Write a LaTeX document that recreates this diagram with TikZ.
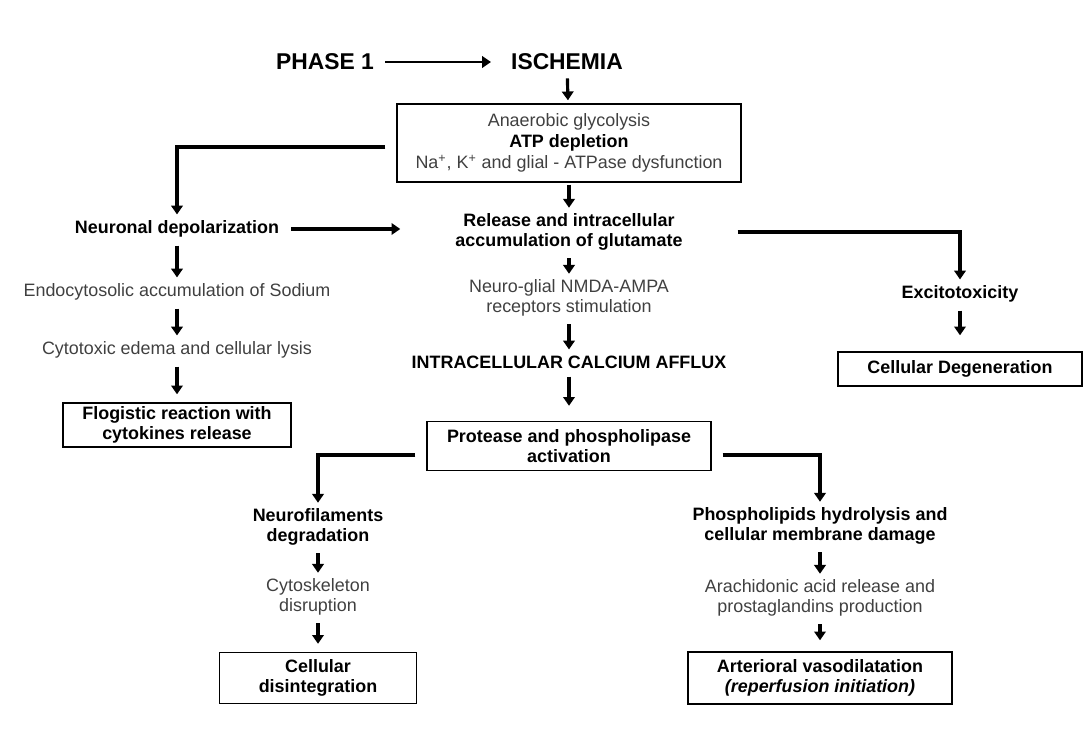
\documentclass[tikz,border=0pt]{standalone}
\usepackage{fontspec}
\setmainfont{Liberation Sans}
\usetikzlibrary{arrows.meta}

\begin{document}
\begin{tikzpicture}[x=0.02cm, y=-0.02cm,
  font=\fontsize{10.2}{11}\selectfont,
  txt/.style={text=black!75, align=center},
  hd/.style={font=\fontsize{10.2}{11}\selectfont\bfseries, align=center},
  box/.style={draw, line width=0.8pt, align=center, inner sep=2pt},
  arr/.style={line width=1.8pt, shorten <=0.04cm, -{Triangle[width=6.5pt,length=5pt]}}]

\useasboundingbox (0,0) rectangle (1083,734);

% ── TOP: phase and the ATP box ───────────────────────────────────────────
\node[font=\fontsize{13}{15}\selectfont\bfseries] (phase) at (325, 62) {PHASE 1};
\node[font=\fontsize{13}{15}\selectfont\bfseries] (isch)  at (567, 62) {ISCHEMIA};
\node[box, minimum width=6.88cm, minimum height=1.56cm,
      font=\fontsize{10.2}{12}\selectfont] (atp) at (569, 143)
  {\textcolor{black!75}{Anaerobic glycolysis}\\
   \textbf{ATP depletion}\\
   \textcolor{black!75}{Na\textsuperscript{+}, K\textsuperscript{+} and glial - ATPase dysfunction}};

% ── LEFT COLUMN (x=177) ──────────────────────────────────────────────────
\node[hd]  (neur)   at (177, 229) {Neuronal depolarization};
\node[txt] (sodium) at (177, 292) {Endocytosolic accumulation of Sodium};
\node[txt] (lysis)  at (177, 350) {Cytotoxic edema and cellular lysis};
\node[box, hd, minimum width=4.56cm, minimum height=0.88cm] (flog) at (177, 425)
  {Flogistic reaction with\\cytokines release};

% ── CENTRE COLUMN (x=569) ────────────────────────────────────────────────
\node[hd]  (glut) at (569, 232) {Release and intracellular\\accumulation of glutamate};
\node[txt] (nmda) at (569, 298) {Neuro-glial NMDA-AMPA\\receptors stimulation};
\node[hd]  (calc) at (569, 362) {INTRACELLULAR CALCIUM AFFLUX};
\node[box, hd, minimum width=5.68cm, minimum height=0.98cm] (prot) at (569, 446)
  {Protease and phospholipase\\activation};

% ── RIGHT COLUMN (x=960) ─────────────────────────────────────────────────
\node[hd] (exc) at (960, 294) {Excitotoxicity};
\node[box, hd, minimum width=4.88cm, minimum height=0.68cm] (degen) at (960, 369)
  {Cellular Degeneration};

% ── LOWER LEFT (x=318) ───────────────────────────────────────────────────
\node[hd]  (neuro) at (318, 527) {Neurofilaments\\degradation};
\node[txt] (cyto)  at (318, 597) {Cytoskeleton\\disruption};
\node[box, hd, minimum width=3.94cm, minimum height=1.02cm] (disint) at (318, 678)
  {Cellular\\disintegration};

% ── LOWER RIGHT (x=820) ──────────────────────────────────────────────────
\node[hd]  (phosl) at (820, 526) {Phospholipids hydrolysis and\\cellular membrane damage};
\node[txt] (arach) at (820, 598) {Arachidonic acid release and\\prostaglandins production};
\node[box, hd, minimum width=5.28cm, minimum height=1.04cm] (vaso) at (820, 678)
  {Arterioral vasodilatation\\\textit{(reperfusion initiation)}};

% ── ARROWS ───────────────────────────────────────────────────────────────
\draw[arr, line width=1.2pt, shorten <=0.1cm, shorten >=0.28cm] (phase) -- (isch);
\draw[arr, shorten >=0.06cm] (isch) -- (atp);
\draw[arr] ([xshift=-0.18cm, yshift=-0.08cm]atp.west) -| (neur);
\draw[arr] (atp) -- (glut);
\draw[arr, shorten <=0.12cm, shorten >=0.98cm] (neur) -- (glut.west |- neur);
\draw[arr] ([xshift=0.94cm]glut.east) -| (exc);
\draw[arr, shorten >=0.32cm] (exc) -- (degen);

\draw[arr] (neur) -- (sodium);
\draw[arr] (sodium) -- (lysis);
\draw[arr, shorten >=0.16cm] (lysis) -- (flog);

\draw[arr] (glut) -- (nmda);
\draw[arr] (nmda) -- (calc);
\draw[arr, shorten >=0.3cm] (calc) -- (prot);

\draw[arr] ([xshift=-0.18cm, yshift=-0.18cm]prot.west) -| (neuro);
\draw[arr] ([xshift=0.18cm, yshift=-0.18cm]prot.east) -| (phosl);

\draw[arr] (neuro) -- (cyto);
\draw[arr, shorten >=0.16cm] (cyto) -- (disint);
\draw[arr] (phosl) -- (arach);
\draw[arr, shorten >=0.22cm] (arach) -- (vaso);

\end{tikzpicture}
\end{document}
